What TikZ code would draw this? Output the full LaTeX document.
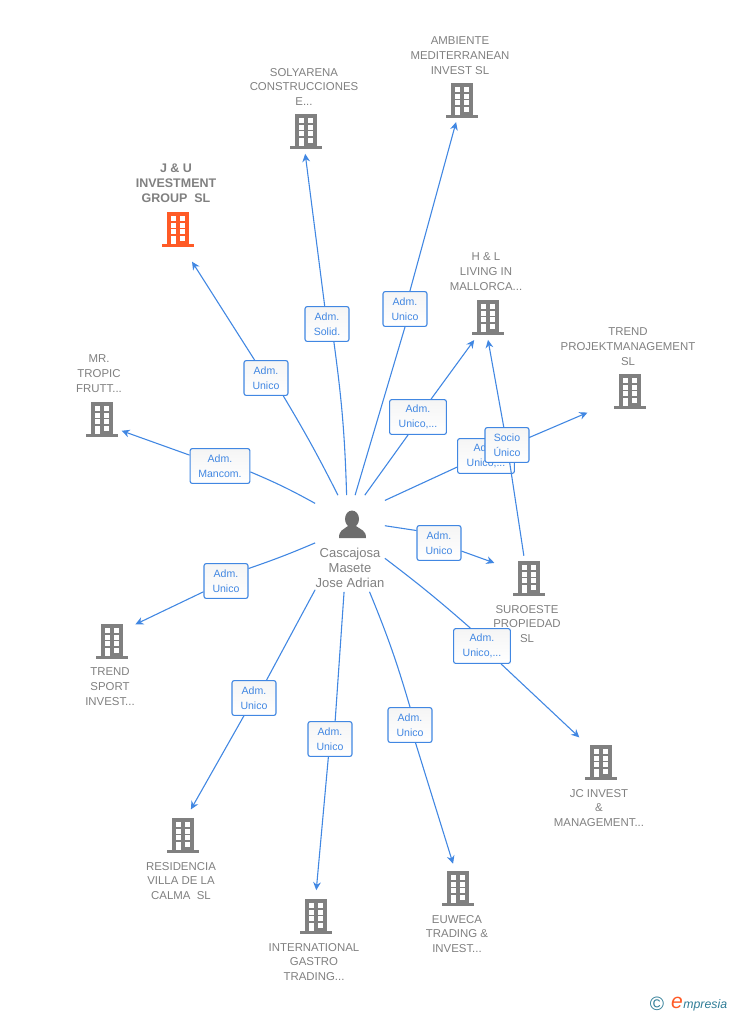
\documentclass[tikz,border=0pt]{standalone}
\usepackage{fontspec}
\setmainfont{Liberation Sans}
\usepackage{xcolor}
\usetikzlibrary{arrows.meta}
\definecolor{linkblue}{HTML}{4187E2}
\definecolor{firmgray}{HTML}{808080}
\definecolor{iconorange}{HTML}{FF5A26}
\definecolor{logoteal}{HTML}{2E7C96}
\tikzset{
  link/.style={color=linkblue, line width=0.62pt},
  arrowlink/.style={link, -{Stealth[length=4.6pt, width=4.4pt]}},
  hubspot/.style={minimum width=39.7pt, minimum height=55pt, inner sep=0pt, outer sep=0pt},
  spot/.style={circle, minimum size=26pt, inner sep=0pt, outer sep=0pt},
  firm/.style={align=center, text=firmgray, font=\fontsize{6.5}{8.5}\selectfont, inner sep=0pt},
  lab/.style={draw=linkblue, line width=0.62pt, rounded corners=1.2pt, top color=black!4, bottom color=white,
    text=linkblue, align=center, font=\fontsize{6}{8.5}\selectfont, inner sep=0pt,
    minimum width=25pt, minimum height=19.8pt},
  labwide/.style={lab, minimum width=32.3pt},
  building/.pic={
    \fill (-11,-17) rectangle (11,15);
    \fill (-16,15) rectangle (16,18);
    \fill[white] (-7,-13) rectangle (-2,-8);
    \fill[white] (2,-13) rectangle (7,-8);
    \fill[white] (-7,-6) rectangle (-2,-1);
    \fill[white] (2,-6) rectangle (7,-1);
    \fill[white] (-7,0) rectangle (-2,5);
    \fill[white] (2,0) rectangle (7,5);
    \fill[white] (-7,7) rectangle (-2,15);
    \fill[white] (2,7) rectangle (7,12);
  }
}
\newcommand{\firmicon}[3]{
  \node[spot] (#1) at (#2) {};
  \pic[color=#3] at (#1) {building};
}
\begin{document}
\begin{tikzpicture}[x=0.02cm, y=-0.02cm]
\useasboundingbox (0,0) rectangle (728,1015);
% companies
\firmicon{ambiente}{462,100}{firmgray}
\firmicon{solyarena}{306,131}{firmgray}
\firmicon{juinvest}{178,229}{iconorange}
\firmicon{hlliving}{488,317}{firmgray}
\firmicon{trendproj}{630,391}{firmgray}
\firmicon{tropic}{102,419}{firmgray}
\firmicon{suroeste}{529,578}{firmgray}
\firmicon{trendsport}{112,641}{firmgray}
\firmicon{jcinvest}{601,762}{firmgray}
\firmicon{residencia}{183,835}{firmgray}
\firmicon{euweca}{458,888}{firmgray}
\firmicon{gastro}{316,916}{firmgray}
\node[firm] (ambienteName) at (460,56) {AMBIENTE\\MEDITERRANEAN\\INVEST SL};
\node[firm] (solyarenaName) at (304,87) {SOLYARENA\\CONSTRUCCIONES\\E...};
\node[firm, font=\fontsize{7.1}{8.5}\selectfont\bfseries] (juinvestName) at (176,183) {J \& U\\INVESTMENT\\GROUP\ \ SL};
\node[firm] (hllivingName) at (486,272) {H \& L\\LIVING IN\\MALLORCA...};
\node[firm] (trendprojName) at (628,347) {TREND\\PROJEKTMANAGEMENT\\SL};
\node[firm] (tropicName) at (99,374) {MR.\\TROPIC\\FRUTT...};
\node[firm] (suroesteName) at (527,624) {SUROESTE\\PROPIEDAD\\SL};
\node[firm] (trendsportName) at (110,687) {TREND\\SPORT\\INVEST...};
\node[firm] (jcinvestName) at (599,808) {JC INVEST\\\&\\MANAGEMENT...};
\node[firm] (residenciaName) at (181,881) {RESIDENCIA\\VILLA DE LA\\CALMA\ \ SL};
\node[firm] (euwecaName) at (457,934) {EUWECA\\TRADING \&\\INVEST...};
\node[firm] (gastroName) at (314,962) {INTERNATIONAL\\GASTRO\\TRADING...};
% person
\node[hubspot] (hub) at (350,543.5) {};
\fill[color=firmgray!85!black] (352,519) ellipse (7 and 8.5);
\fill[color=firmgray!85!black] (339,538) .. controls (339,530) and (343,530) .. (348,526) -- (356,526) .. controls (361,530) and (366,530) .. (366,538) -- cycle;
\node[firm, font=\fontsize{7.4}{8.5}\selectfont] (hubName) at (350,568) {Cascajosa\\Masete\\Jose Adrian};
% labels
\node[lab, minimum width=34pt] (labTropic) at (220,466) {Adm.\\Mancom.};
\node[lab] (labJu) at (266,378) {Adm.\\Unico};
\node[lab] (labSolyarena) at (327,324) {Adm.\\Solid.};
\node[lab] (labAmbiente) at (405,309) {Adm.\\Unico};
\node[labwide] (labLiving) at (418,417) {Adm.\\Unico,...};
\node[lab] (labSuroeste) at (439,543) {Adm.\\Unico};
\node[labwide] (labJc) at (482,646) {Adm.\\Unico,...};
\node[lab] (labEuweca) at (410,725) {Adm.\\Unico};
\node[lab] (labGastro) at (330,739) {Adm.\\Unico};
\node[lab] (labResidencia) at (254,698) {Adm.\\Unico};
\node[lab] (labSport) at (226,581) {Adm.\\Unico};
% connectors
\draw[link] (hub.131) to[bend right=3] (labTropic.-11);
\draw[arrowlink] (labTropic) -- (tropic.-31);
\draw[link] (hub.104) to[bend right=2] (labJu.-46);
\draw[arrowlink, shorten >=7.4pt] (labJu) -- (juinvest.-72);
\draw[link] (hub.94) to[bend right=3] (labSolyarena.-69);
\draw[arrowlink] (labSolyarena) -- (solyarena.-92);
\draw[link] (hub.84) -- (labAmbiente.-90);
\draw[arrowlink] (labAmbiente) -- (ambiente.-105);
\draw[link] (hub.73) -- (labLiving.-119);
\draw[arrowlink, shorten >=2.3pt] (labLiving) -- (hlliving.-120);
\draw[link] (hub.27) -- (labSuroeste.151);
\draw[arrowlink, shorten >=8.5pt] (labSuroeste) -- (suroeste.154);
\draw[link] (hub.-23) to[bend left=2] (labJc.123);
\draw[arrowlink, shorten >=5.7pt] (labJc) -- (jcinvest.129);
\draw[link] (hub.-68) to[bend left=3] (labEuweca.90);
\draw[arrowlink, shorten >=1.1pt] (labEuweca) -- (euweca.101);
\draw[link] (hub.-97) -- (labGastro.74);
\draw[arrowlink, shorten >=1.7pt] (labGastro) -- (gastro.90);
\draw[link] (hub.-127) -- (labResidencia.55);
\draw[arrowlink, shorten >=2.3pt] (labResidencia) -- (residencia.75);
\draw[link] (hub.179) to[bend left=2] (labSport.29);
\draw[arrowlink, shorten >=3.4pt] (labSport) -- (trendsport.38);
% the two that overlap
\node[labwide] (labProj) at (486,456) {Adm.\\Unico,...};
\draw[link] (hub.51) -- (labProj.-159);
\draw[arrowlink, shorten >=14.2pt] (labProj) -- (trendproj.-149);
\node[lab] (labSocio) at (507,445) {Socio\\Único};
\draw[link] (suroeste.103) -- (labSocio);
\draw[arrowlink] (labSocio) -- (hlliving.-90);
% logo
\node[inner sep=0pt, text=logoteal, font=\fontsize{11}{11}\selectfont] (logoMark) at (657,1004) {©};
\node[inner sep=0pt, text=iconorange, font=\fontsize{12}{12}\selectfont\itshape] (logoE) at (677,1003) {e};
\node[inner sep=0pt, anchor=west, text=logoteal, font=\fontsize{7}{9}\selectfont\itshape] (logoName) at (683,1005) {mpresia};
\end{tikzpicture}
\end{document}
